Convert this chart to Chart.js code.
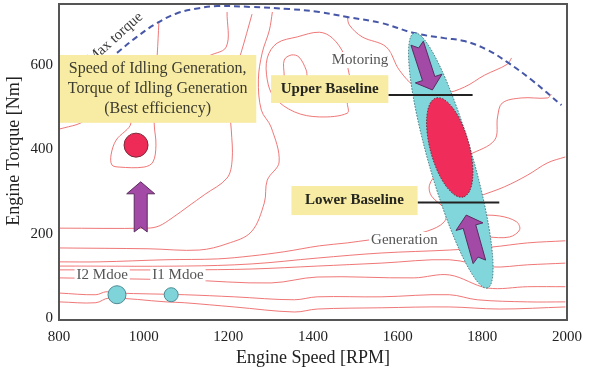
<!DOCTYPE html>
<html>
<head>
<meta charset="utf-8">
<script src="https://cdn.jsdelivr.net/npm/chart.js@4.4.0/dist/chart.umd.min.js"></script>
<style>
  html, body { margin: 0; padding: 0; background: #fff; }
</style>
</head>
<body>
<canvas id="map" width="590" height="376"></canvas>
<script>
// axis ticks
const xTicks = [800, 1000, 1200, 1400, 1600, 1800, 2000];
const yTicks = [0, 200, 400, 600];

// max torque curve [rpm, Nm]
const maxTorque = [[937, 629], [984, 667], [1032, 700], [1079, 723], [1131, 735], [1174, 740], [1254, 738], [1344, 733],
  [1415, 726], [1481, 714], [1561, 700], [1639, 676], [1710, 664], [1758, 657], [1812, 636], [1859, 607], [1916, 565], [1987, 505]];

// efficiency contours [rpm, Nm]
const contourIdle = [[1036, 702], [1032, 624], [1025, 517], [1025, 458], [1029, 410], [1022, 370], [1001, 358], [942, 358],
  [925, 363], [923, 387], [935, 422], [970, 463], [942, 517], [871, 482], [852, 463], [812, 451], [800, 448]];
const contourA = [[800, 213], [1008, 213], [1036, 218], [1067, 237], [1107, 266], [1143, 292], [1197, 332], [1209, 375],
  [1207, 446], [1202, 517], [1216, 588], [1230, 629], [1256, 721]];
const contourTop = [[1197, 726], [1195, 643], [1148, 617], [1119, 565]];
const contourB = [[800, 166], [1013, 164], [1131, 161], [1197, 176], [1254, 204], [1285, 273], [1292, 327], [1320, 370],
  [1301, 453], [1278, 493], [1271, 565], [1280, 629], [1297, 683], [1304, 726]];
const contourLoop = [[1486, 576], [1474, 624], [1446, 664], [1415, 678], [1363, 667], [1315, 652], [1292, 617], [1292, 565],
  [1308, 524], [1356, 489], [1415, 477], [1481, 486], [1481, 510]];
const contourInner = [[1332, 574], [1332, 612], [1349, 624], [1367, 619], [1384, 588], [1386, 572]];
const contourMotor = [[1481, 714], [1486, 695], [1516, 667], [1573, 643], [1604, 588], [1644, 548], [1710, 534], [1758, 548],
  [1805, 576], [1859, 602], [1869, 617]];
const contourR2 = [[1734, 370], [1769, 387], [1829, 422], [1836, 477], [1847, 510], [1892, 522], [1954, 522], [1963, 531]];
const contourR1 = [[1769, 280], [1793, 289], [1852, 311], [1907, 339], [1954, 368], [1996, 382]];
const contourLa = [[800, 133], [895, 133], [1053, 138], [1174, 140], [1254, 147], [1332, 157], [1415, 171], [1481, 178],
  [1533, 185], [1604, 192], [1670, 206], [1710, 228], [1713, 256], [1680, 289], [1675, 315], [1694, 346]];
const contourTongue = [[1781, 244], [1840, 242], [1881, 228], [1888, 209], [1864, 192], [1812, 192], [1781, 194]];
const contourLb = [[800, 123], [1096, 123], [1254, 128], [1410, 142], [1561, 154], [1722, 161], [1821, 168], [1907, 178], [1996, 183]];
const contourLc = [[800, 114], [1096, 114], [1254, 116], [1410, 123], [1561, 130], [1722, 138], [1821, 121], [1907, 126], [1996, 130]];
const contourLd = [[800, 95], [1096, 90], [1301, 83], [1410, 97], [1639, 95], [1722, 102], [1812, 71], [1907, 74], [1996, 74]];
const contourLe = [[800, 59], [887, 55], [911, 62], [935, 59], [1096, 55], [1214, 50], [1356, 43], [1410, 50], [1561, 50],
  [1722, 55], [1788, 43], [1907, 38], [1996, 38]];
const contourLf = [[800, 38], [887, 36], [918, 47], [1053, 38], [1096, 36], [1214, 26], [1356, 14], [1410, 21], [1561, 24],
  [1722, 26], [1840, 21], [1996, 26]];

// operating points [rpm, Nm]
const idlePoint = [[982, 410]];
const modePoints = [[937, 55], [1065, 55]];

// regions and moves [rpm, Nm]
const regionBand = [[1639, 676], [1812, 71]];
const regionBest = [[1691, 522], [1755, 287]];
const baselines = [[1578, 1777, 529], [1647, 1840, 274]];
const moves = [[993, 204, 993, 323], [1646, 652, 1682, 541], [1793, 133, 1762, 244]];

// notes: [rpm from, rpm to, Nm from, Nm to]
const idleBox = [800, 1266, 463, 624];
const upperBox = [1301, 1578, 510, 576];
const lowerBox = [1349, 1647, 244, 313];
const idleNote = ['Speed of Idling Generation,', 'Torque of Idling Generation', '(Best efficiency)'];
const labels = [['Motoring', 1511, 612], ['Generation', 1616, 185], ['I2 Mdoe', 902, 102], ['I1 Mdoe', 1081, 102]];
const curveName = ['Max torque', 932, 664];

const serif = "'Liberation Serif', 'DejaVu Serif', serif";
Chart.defaults.font.family = serif;

const pts = arr => arr.map(p => ({ x: p[0], y: p[1] }));
const contourColor = 'rgba(236, 95, 95, 0.85)';
const contours = [contourIdle, contourA, contourTop, contourB, contourLoop, contourInner, contourMotor, contourR2,
  contourR1, contourLa, contourTongue, contourLb, contourLc, contourLd, contourLe, contourLf];

function drawEllipse(c, a, b, w, fill, stroke) {
  const cx = (a[0] + b[0]) / 2, cy = (a[1] + b[1]) / 2;
  const len = Math.hypot(b[0] - a[0], b[1] - a[1]);
  const ang = Math.atan2(b[1] - a[1], b[0] - a[0]);
  c.beginPath();
  c.ellipse(cx, cy, len / 2, w / 2, ang, 0, Math.PI * 2);
  c.fillStyle = fill;
  c.fill();
  c.setLineDash([1.5, 1.5]);
  c.strokeStyle = stroke;
  c.lineWidth = 1;
  c.stroke();
  c.setLineDash([]);
}

function drawArrow(c, x1, y1, x2, y2) {
  const len = Math.hypot(x2 - x1, y2 - y1);
  const ux = (x2 - x1) / len, uy = (y2 - y1) / len;
  const nx = -uy, ny = ux;
  const P = (a, b) => [x1 + ux * a + nx * b, y1 + uy * a + ny * b];
  const head = 12, hw = 14, sw = 6.5, notch = 5;
  const poly = [P(len, 0), P(len - head, hw), P(len - head, sw), P(0, sw), P(notch, 0),
    P(0, -sw), P(len - head, -sw), P(len - head, -hw)];
  c.beginPath();
  poly.forEach((p, i) => i ? c.lineTo(p[0], p[1]) : c.moveTo(p[0], p[1]));
  c.closePath();
  c.fillStyle = '#a24aa5';
  c.fill();
  c.strokeStyle = '#5b2c60';
  c.lineWidth = 1;
  c.stroke();
}

// shapes, notes and frame on top of the lines
const overlay = {
  id: 'overlay',
  afterDatasetsDraw(chart) {
    const c = chart.ctx;
    const { x, y } = chart.scales;
    const P = p => [x.getPixelForValue(p[0]), y.getPixelForValue(p[1])];
    c.save();

    drawEllipse(c, P(regionBand[0]), P(regionBand[1]), 44, '#80d6da', '#3d6f78');
    drawEllipse(c, P(regionBest[0]), P(regionBest[1]), 39, '#f02d5a', '#6a2030');

    c.strokeStyle = '#222';
    c.lineWidth = 2;
    baselines.forEach(b => {
      c.beginPath();
      c.moveTo(x.getPixelForValue(b[0]), y.getPixelForValue(b[2]));
      c.lineTo(x.getPixelForValue(b[1]), y.getPixelForValue(b[2]));
      c.stroke();
    });

    moves.forEach(m => {
      const a = P([m[0], m[1]]), b = P([m[2], m[3]]);
      drawArrow(c, a[0], a[1], b[0], b[1]);
    });

    // rotated curve name, partly under the note box
    const mt = P([curveName[1], curveName[2]]);
    c.save();
    c.translate(mt[0], mt[1]);
    c.rotate(-42 * Math.PI / 180);
    c.font = '15px ' + serif;
    c.fillStyle = '#3a3a3a';
    c.textAlign = 'center';
    c.textBaseline = 'middle';
    c.fillText(curveName[0], 0, 0);
    c.restore();

    const box = (b, lines, font, color) => {
      const x0 = x.getPixelForValue(b[0]), x1 = x.getPixelForValue(b[1]);
      const y0 = y.getPixelForValue(b[3]), y1 = y.getPixelForValue(b[2]);
      c.fillStyle = '#f8eca4';
      c.fillRect(x0, y0, x1 - x0, y1 - y0);
      c.font = font;
      c.fillStyle = color;
      c.textAlign = 'center';
      c.textBaseline = 'middle';
      const cy = (y0 + y1) / 2, lh = 20;
      lines.forEach((t, i) => c.fillText(t, (x0 + x1) / 2, cy + (i - (lines.length - 1) / 2) * lh));
    };
    box(idleBox, idleNote, '16px ' + serif, '#3b3b30');
    box(upperBox, ['Upper Baseline'], 'bold 15px ' + serif, '#262620');
    box(lowerBox, ['Lower Baseline'], 'bold 15px ' + serif, '#262620');

    c.font = '15px ' + serif;
    c.textAlign = 'center';
    c.textBaseline = 'middle';
    labels.forEach(l => {
      const p = P([l[1], l[2]]);
      const w = c.measureText(l[0]).width;
      c.fillStyle = '#fff';
      c.fillRect(p[0] - w / 2 - 2, p[1] - 8, w + 4, 16);
      c.fillStyle = '#555';
      c.fillText(l[0], p[0], p[1]);
    });

    const a = chart.chartArea;
    c.strokeStyle = '#555';
    c.lineWidth = 2;
    c.strokeRect(a.left, a.top, a.right - a.left, a.bottom - a.top);

    // y axis title, sitting a little above the middle like the original
    c.save();
    c.translate(14, (a.top + a.bottom) / 2 - 11);
    c.rotate(-Math.PI / 2);
    c.font = '18px ' + serif;
    c.fillStyle = '#222';
    c.textAlign = 'center';
    c.textBaseline = 'middle';
    c.fillText('Engine Torque [Nm]', 0, 0);
    c.restore();

    c.restore();
  }
};

const datasets = [
  { data: pts(idlePoint), pointRadius: 12, backgroundColor: '#ee2b57', borderColor: '#7a2a3a', borderWidth: 1 },
  { data: pts(modePoints), pointRadius: [9, 7], backgroundColor: '#7fd4d9', borderColor: '#4b8a95', borderWidth: 1 },
  { data: pts(maxTorque), showLine: true, borderColor: '#4757a8', borderWidth: 2, borderDash: [6, 4], pointRadius: 0, tension: 0.4 },
  ...contours.map(cn => ({ data: pts(cn), showLine: true, borderColor: contourColor, borderWidth: 1, pointRadius: 0, tension: 0.35 }))
];

new Chart(document.getElementById('map'), {
  type: 'scatter',
  data: { datasets },
  plugins: [overlay],
  options: {
    responsive: false,
    animation: false,
    layout: { autoPadding: false, padding: { left: 0, top: 4, right: 23, bottom: 3 } },
    plugins: { legend: { display: false }, tooltip: { enabled: false } },
    scales: {
      x: {
        min: 800, max: 2000,
        grid: { display: false, drawTicks: false },
        border: { display: false },
        afterBuildTicks: s => { s.ticks = xTicks.map(v => ({ value: v })); },
        afterFit: s => { s.height = 53; s.paddingLeft = 0; s.paddingRight = 0; },
        ticks: { font: { size: 15 }, color: '#222', padding: 8, maxRotation: 0, callback: v => String(v) },
        title: { display: true, text: 'Engine Speed [RPM]', font: { size: 18 }, color: '#222' }
      },
      y: {
        min: -5, max: 745,
        grid: { display: false, drawTicks: false },
        border: { display: false },
        afterBuildTicks: s => { s.ticks = yTicks.map(v => ({ value: v })); },
        afterFit: s => { s.width = 59; s.paddingTop = 0; s.paddingBottom = 0; },
        ticks: { font: { size: 15 }, color: '#222', padding: 6, callback: v => String(v) },
        title: { display: false }
      }
    }
  }
});
</script>
</body>
</html>
